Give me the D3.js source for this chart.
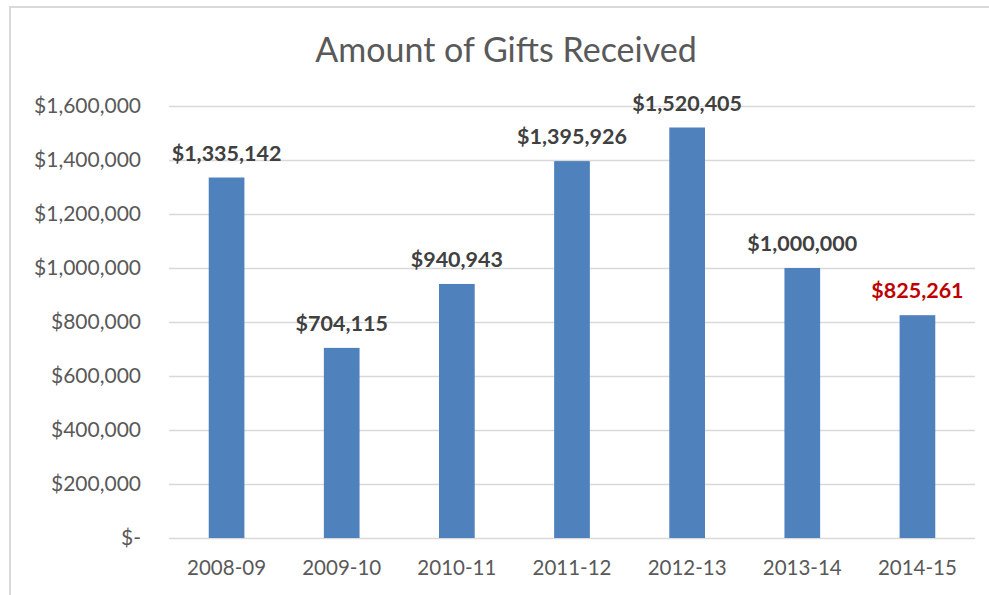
<html>
<head>
<script src="https://d3js.org/d3.v7.min.js"></script>
<style>
  body { margin: 0; background: #fff; }
  text { font-family: Lato, "Open Sans", sans-serif; }
</style>
</head>
<body>
<div id="chart"></div>
<script>
const years = ["2008-09", "2009-10", "2010-11", "2011-12", "2012-13", "2013-14", "2014-15"];
const gifts = [1335142, 704115, 940943, 1395926, 1520405, 1000000, 825261];
const yTicks = [0, 200000, 400000, 600000, 800000, 1000000, 1200000, 1400000, 1600000];

const W = 989, H = 595;
const margin = { top: 106, right: 14, bottom: 57, left: 169 };
const width = W - margin.left - margin.right,
      height = H - margin.top - margin.bottom;

const svg = d3.select("#chart").append("svg")
  .attr("width", W).attr("height", H);

// chart frame
svg.append("rect")
  .attr("x", 10).attr("y", 7)
  .attr("width", W).attr("height", H)
  .attr("fill", "none").attr("stroke", "#d9d9d9").attr("stroke-width", 2);

svg.append("text")
  .attr("x", 506).attr("y", 62)
  .attr("text-anchor", "middle")
  .style("font-size", "34px").attr("fill", "#595959")
  .text("Amount of Gifts Received");

const g = svg.append("g").attr("transform", "translate(" + margin.left + "," + margin.top + ")");

const x = d3.scaleBand().domain(years).range([0, width]).paddingInner(0.69).paddingOuter(0.345);
const y = d3.scaleLinear().domain([0, 1600000]).range([height, 0]);

const fmt = d3.format("$,");

// gridlines + y labels
const yAxis = g.append("g")
  .call(d3.axisLeft(y).tickValues(yTicks).tickSize(-width).tickPadding(28)
    .tickFormat(d => d === 0 ? "$-" : fmt(d)));
yAxis.select(".domain").remove();
yAxis.selectAll("line").attr("stroke", "#d9d9d9").attr("stroke-width", 1.3);
yAxis.selectAll("text").style("font-size", "21px").attr("fill", "#595959");

const xAxis = g.append("g")
  .attr("transform", "translate(0," + height + ")")
  .call(d3.axisBottom(x).tickSize(0).tickPadding(22));
xAxis.select(".domain").remove();
xAxis.selectAll("text").style("font-size", "20.5px").attr("fill", "#595959");

g.selectAll(".bar")
  .data(gifts)
  .enter().append("rect")
  .attr("class", "bar")
  .attr("x", (d, i) => x(years[i]))
  .attr("y", d => y(d))
  .attr("width", x.bandwidth())
  .attr("height", d => height - y(d))
  .attr("fill", "#4f81bd");

g.selectAll(".lbl")
  .data(gifts)
  .enter().append("text")
  .attr("class", "lbl")
  .attr("x", (d, i) => x(years[i]) + x.bandwidth() / 2)
  .attr("y", d => y(d) - 17)
  .attr("text-anchor", "middle")
  .style("font-size", "21.5px").style("font-weight", "bold")
  .attr("fill", (d, i) => i === gifts.length - 1 ? "#c00000" : "#404040")
  .text(d => fmt(d));
</script>
</body>
</html>
